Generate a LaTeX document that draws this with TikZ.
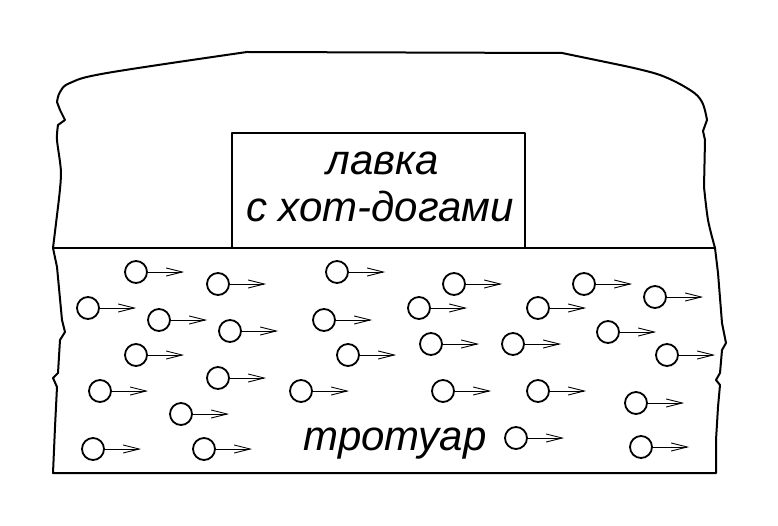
\documentclass[tikz,border=0pt]{standalone}
\usepackage{fontspec}
\setmainfont{Liberation Sans}
\usetikzlibrary{arrows.meta}

\tikzset{
  edge/.style={line width=2pt},
  person/.style={line width=1.8pt},
  walk/.style={line width=0.9pt,-{Straight Barb[length=16pt,width=8pt]}},
  sign/.style={inner sep=0pt,anchor=base,font=\fontsize{42}{47}\selectfont\itshape}
}

\begin{document}
\begin{tikzpicture}[x=1pt,y=-1pt,line cap=round,line join=round]
  \useasboundingbox (0,0) rectangle (778,526);
  \coordinate (SL) at (53,248);
  \coordinate (SR) at (715,248);
  \coordinate (BL) at (53,473);
  \coordinate (BR) at (716,473);
  % outline: sidewalk edges and the building behind
  \draw[edge] (BL) -- (55,427) -- (57,387) -- (53,378) -- (58,373) -- (60,340)
    -- (65,332) -- (62,320) -- (57,267) -- (SL)
    -- plot[smooth,tension=0.5] coordinates {(58,207) (61,173) (57,140) (58,125)}
    -- (65,120) -- (60,110)
    -- plot[smooth,tension=0.6] coordinates {(57,102) (60,92) (70,83) (107,73) (247,52)}
    -- (562,53)
    -- plot[smooth,tension=0.6] coordinates {(620,65) (660,75) (690,90) (702,102) (707,120)}
    -- (703,131) -- (705,140)
    -- plot[smooth,tension=0.5] coordinates {(704,187) (708,220) (SR)}
    -- (718,273) -- (722,323) -- (726,343) -- (722,350) -- (720,373) -- (716,380)
    -- (720,385) -- (718,407) -- (716,440) -- (BR) -- cycle;
  \draw[edge] (SL) -- (SR);
  % hot dog stand
  \draw[edge] (232,248) -- (232,133) -- (525,133) -- (525,248);
  \node[sign] (lavka) at (383,175) {лавка};
  \node[sign] (hotdog) at (380,222) {с хот-догами};
  \node[sign] (trotuar) at (395,450) {тротуар};
  % pedestrians
  \foreach \x/\y in {136/272,218/284,337/272,88/308,159/320,230/331,324/320,136/355,
      348/355,218/378,100/391,301/391,181/414,93/449,204/449,454/284,584/284,
      655/297,419/308,538/308,608/332,431/344,513/344,667/355,443/391,538/391,
      636/403,516/438,641/447} {
    \draw[person] (\x,\y) circle[radius=11pt];
    \draw[walk] (\x+12,\y) -- (\x+48,\y);
  }
\end{tikzpicture}
\end{document}
